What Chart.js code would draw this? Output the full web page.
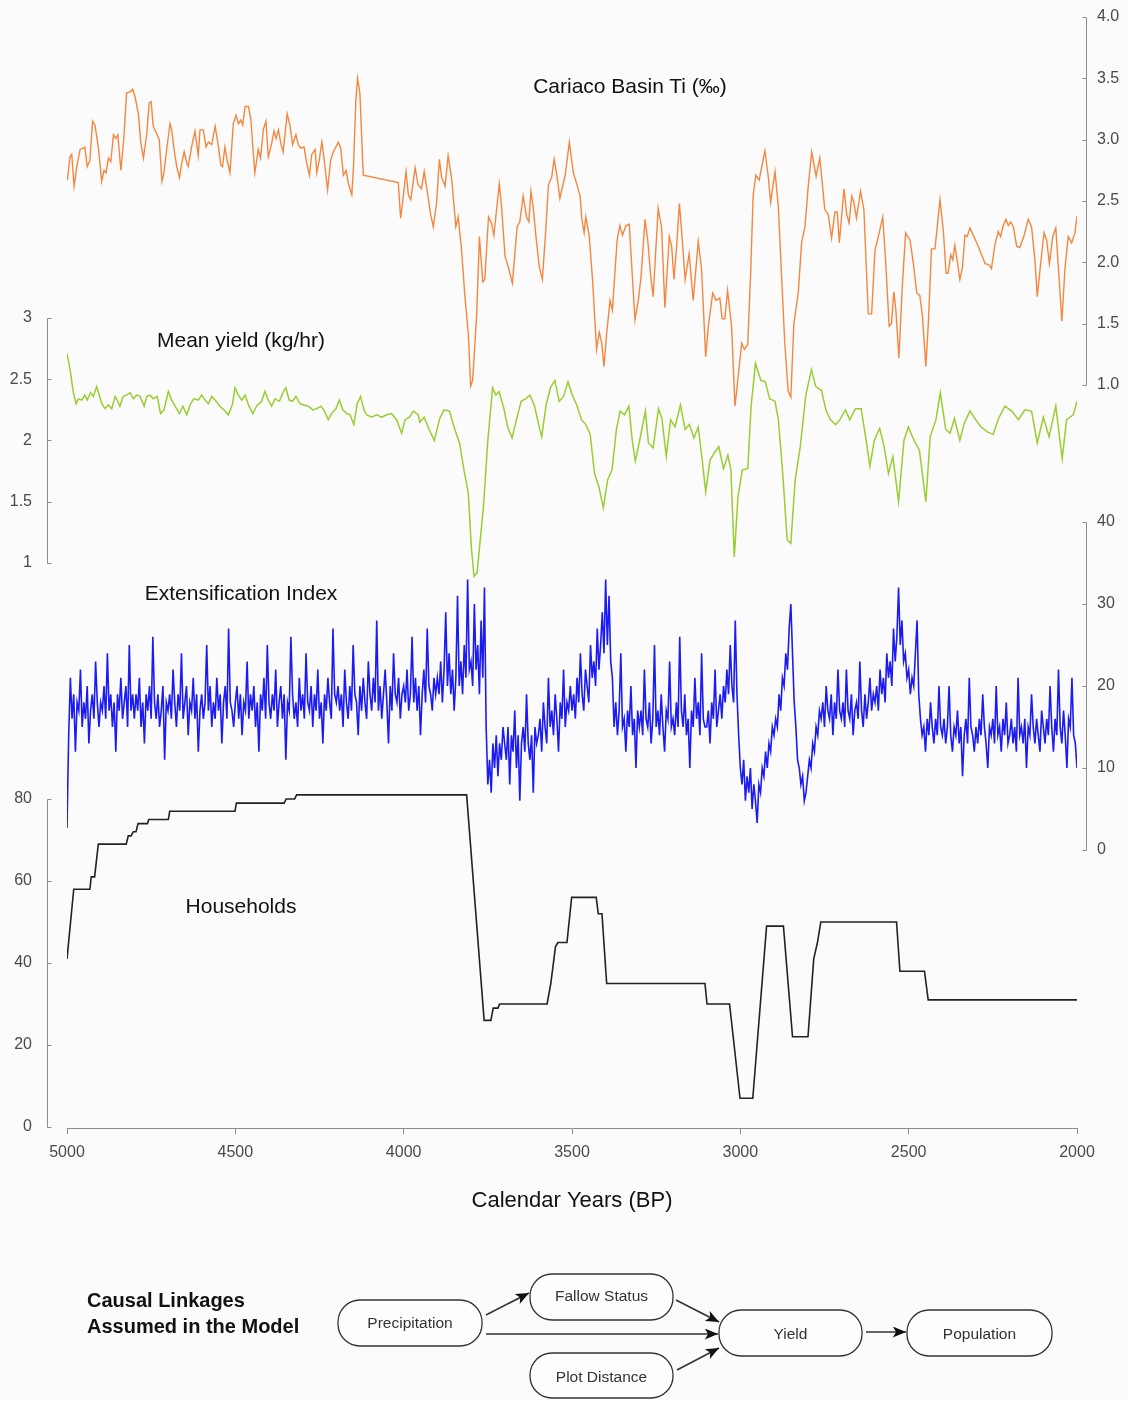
<!DOCTYPE html>
<html><head><meta charset="utf-8">
<script src="https://cdn.jsdelivr.net/npm/chart.js@4.4.0/dist/chart.umd.min.js"></script>
<style>
html,body{margin:0;padding:0;background:#fbfbfb;}
#wrap{position:relative;width:1129px;height:1401px;overflow:hidden;font-family:'Liberation Sans',Arial,sans-serif;}
#c{position:absolute;left:0;top:0;}
.lbl{position:absolute;transform:translate(-50%,-50%);font-size:21px;color:#111;white-space:nowrap;}
#diag{position:absolute;left:0;top:0;}
</style></head>
<body>
<div id="wrap">
<canvas id="c" width="1129" height="1230" style="width:1129px;height:1230px"></canvas>
<div class="lbl" style="left:630px;top:86px">Cariaco Basin Ti (‰)</div>
<div class="lbl" style="left:241px;top:340px">Mean yield (kg/hr)</div>
<div class="lbl" style="left:241px;top:593px">Extensification Index</div>
<div class="lbl" style="left:241px;top:906px">Households</div>
<svg id="diag" width="1129" height="1401" viewBox="0 0 1129 1401">
<defs><marker id="ah" viewBox="0 0 12 10" refX="12" refY="5" markerWidth="15" markerHeight="11" markerUnits="userSpaceOnUse" orient="auto"><path d="M0,0 L12,5 L0,10 L3,5 z" fill="#111"/></marker></defs>
<g font-family="'Liberation Sans',Arial,sans-serif">
<text x="87" y="1307" font-size="20" font-weight="bold" fill="#111">Causal Linkages</text>
<text x="87" y="1333" font-size="20" font-weight="bold" fill="#111">Assumed in the Model</text>
<g fill="#fdfdfd" stroke="#333" stroke-width="1.3">
<rect x="338" y="1300" width="144" height="46" rx="22"/>
<rect x="530" y="1274" width="143" height="46" rx="22"/>
<rect x="530" y="1353" width="143" height="45" rx="22"/>
<rect x="719" y="1310" width="143" height="46" rx="22"/>
<rect x="907" y="1310" width="145" height="46" rx="22"/>
</g>
<g font-size="15.5" fill="#333" text-anchor="middle" dominant-baseline="central">
<text x="410" y="1322">Precipitation</text>
<text x="601.5" y="1295">Fallow Status</text>
<text x="601.5" y="1376">Plot Distance</text>
<text x="790.5" y="1333">Yield</text>
<text x="979.5" y="1333">Population</text>
</g>
<g stroke="#333" stroke-width="1.6" fill="none" marker-end="url(#ah)">
<line x1="486" y1="1315" x2="529" y2="1293"/>
<line x1="676" y1="1300" x2="719" y2="1322"/>
<line x1="486" y1="1334" x2="718" y2="1334"/>
<line x1="677" y1="1370" x2="719" y2="1348"/>
<line x1="866" y1="1332" x2="906" y2="1332"/>
</g>
</g>
</svg>
</div>
<script>
// ---- tick labels ----
const yearTicks = [5000, 4500, 4000, 3500, 3000, 2500, 2000];
const cariacoTicks = [1.0, 1.5, 2.0, 2.5, 3.0, 3.5, 4.0];
const yieldTicks = [1, 1.5, 2, 2.5, 3];
const extTicks = [0, 10, 20, 30, 40];
const hhTicks = [0, 20, 40, 60, 80];

// ---- Cariaco Basin Ti (permil): [year BP, value] ----
const cariacoTi = [[4999,2.67],[4991,2.86],[4986,2.88],[4979,2.62],[4971,2.78],[4961,2.92],[4952,2.93],[4947,2.94],[4940,2.78],[4932,2.83],[4924,3.15],[4917,3.12],[4907,2.94],[4897,2.66],[4890,2.75],[4884,2.73],[4877,2.85],[4870,2.82],[4862,3.04],[4855,3.01],[4849,3.04],[4840,2.75],[4831,3.02],[4823,3.38],[4813,3.39],[4805,3.41],[4798,3.35],[4788,3.21],[4781,2.98],[4773,2.85],[4763,3.05],[4756,3.30],[4750,3.31],[4744,3.11],[4734,3.05],[4726,3.00],[4718,2.66],[4712,2.73],[4704,2.92],[4694,3.13],[4689,3.08],[4682,2.92],[4674,2.78],[4666,2.69],[4659,2.81],[4652,2.90],[4644,2.81],[4640,2.78],[4630,2.94],[4620,3.07],[4610,2.87],[4605,3.08],[4595,3.08],[4587,2.94],[4580,2.98],[4570,2.96],[4560,3.11],[4551,2.96],[4543,2.79],[4538,2.78],[4531,2.94],[4524,2.83],[4516,2.73],[4506,3.13],[4498,3.20],[4491,3.13],[4484,3.16],[4478,3.12],[4471,3.27],[4461,3.27],[4454,3.17],[4448,2.94],[4442,2.73],[4432,2.92],[4425,2.85],[4417,3.08],[4409,3.15],[4402,2.86],[4392,2.97],[4385,3.07],[4379,3.01],[4372,3.08],[4365,2.97],[4358,2.90],[4346,3.21],[4338,3.12],[4330,2.96],[4320,3.04],[4313,2.96],[4306,2.93],[4296,2.94],[4288,2.81],[4280,2.71],[4273,2.88],[4263,2.92],[4258,2.73],[4251,2.83],[4243,2.98],[4237,2.86],[4226,2.59],[4217,2.83],[4209,2.90],[4194,2.98],[4187,2.93],[4179,2.71],[4171,2.75],[4164,2.64],[4154,2.55],[4149,2.78],[4142,3.32],[4137,3.50],[4130,3.38],[4120,2.71],[4016,2.65],
[4009,2.36],[4001,2.54],[3993,2.74],[3986,2.55],[3979,2.51],[3966,2.77],[3957,2.63],[3947,2.60],[3939,2.74],[3930,2.58],[3920,2.39],[3912,2.29],[3902,2.49],[3894,2.84],[3887,2.69],[3877,2.62],[3868,2.87],[3857,2.67],[3845,2.29],[3838,2.37],[3828,2.10],[3818,1.72],[3808,1.42],[3801,0.99],[3795,1.04],[3783,1.58],[3775,2.21],[3765,1.84],[3759,1.86],[3748,2.37],[3739,2.32],[3732,2.22],[3716,2.64],[3709,2.45],[3699,2.05],[3689,1.96],[3677,1.83],[3663,2.29],[3655,2.33],[3645,2.54],[3635,2.37],[3628,2.33],[3622,2.58],[3615,2.44],[3607,2.21],[3597,1.96],[3588,1.86],[3578,2.26],[3570,2.63],[3560,2.70],[3553,2.84],[3546,2.73],[3536,2.52],[3528,2.62],[3520,2.71],[3508,2.98],[3496,2.73],[3486,2.64],[3476,2.54],[3471,2.36],[3464,2.24],[3459,2.37],[3449,2.22],[3439,1.86],[3427,1.29],[3419,1.43],[3412,1.35],[3405,1.15],[3397,1.42],[3387,1.69],[3380,1.61],[3372,1.94],[3366,2.18],[3358,2.30],[3350,2.22],[3340,2.30],[3330,2.31],[3323,1.99],[3313,1.53],[3303,1.69],[3295,1.88],[3283,2.35],[3275,2.18],[3266,1.88],[3259,1.72],[3244,2.44],[3234,2.29],[3224,1.63],[3211,2.21],[3204,2.13],[3197,1.86],[3189,2.14],[3181,2.48],[3174,2.24],[3164,1.86],[3152,2.07],[3140,1.69],[3125,2.17],[3115,1.94],[3103,1.23],[3095,1.48],[3082,1.75],[3072,1.69],[3061,1.71],[3054,1.54],[3046,1.54],[3038,1.77],[3026,1.48],[3016,0.83],[3011,0.95],[2996,1.34],[2988,1.29],[2978,1.33],[2969,1.94],[2962,2.54],[2954,2.71],[2944,2.67],
[2940,2.73],[2927,2.91],[2917,2.70],[2910,2.49],[2897,2.74],[2887,2.45],[2877,1.86],[2868,1.34],[2858,0.95],[2850,0.90],[2841,1.50],[2828,1.75],[2818,2.16],[2808,2.29],[2798,2.63],[2788,2.90],[2775,2.70],[2764,2.85],[2749,2.43],[2739,2.39],[2729,2.20],[2719,2.41],[2712,2.41],[2706,2.16],[2692,2.60],[2684,2.39],[2677,2.32],[2669,2.54],[2663,2.49],[2655,2.36],[2643,2.58],[2633,2.43],[2620,1.58],[2610,1.58],[2600,2.10],[2590,2.21],[2577,2.37],[2568,1.99],[2558,1.48],[2551,1.50],[2544,1.76],[2538,1.61],[2529,1.22],[2519,1.80],[2509,2.24],[2496,2.18],[2486,1.99],[2476,1.75],[2467,1.73],[2459,1.56],[2449,1.15],[2442,1.48],[2432,2.11],[2422,2.11],[2415,2.29],[2407,2.51],[2397,2.26],[2389,1.91],[2383,1.91],[2375,2.06],[2369,2.02],[2363,2.14],[2356,2.02],[2348,1.86],[2340,1.96],[2333,2.22],[2326,2.21],[2318,2.28],[2308,2.22],[2298,2.16],[2283,2.06],[2273,1.99],[2261,1.98],[2254,1.95],[2244,2.14],[2234,2.25],[2227,2.21],[2219,2.30],[2211,2.35],[2204,2.30],[2197,2.33],[2189,2.29],[2179,2.13],[2170,2.12],[2158,2.21],[2145,2.35],[2135,2.29],[2125,2.02],[2118,1.72],[2108,1.99],[2098,2.24],[2090,2.18],[2082,1.99],[2072,2.21],[2063,2.28],[2053,1.86],[2045,1.52],[2036,1.94],[2026,2.21],[2016,2.16],[2006,2.24],[2000,2.38]];

// ---- Mean yield (kg/hr): [year BP, value] ----
const meanYield = [[5000,2.71],[4991,2.58],[4981,2.39],[4973,2.30],[4966,2.34],[4956,2.33],[4947,2.37],[4940,2.33],[4930,2.39],[4922,2.36],[4912,2.44],[4904,2.37],[4897,2.30],[4887,2.26],[4877,2.29],[4867,2.26],[4857,2.36],[4851,2.33],[4843,2.28],[4833,2.36],[4823,2.37],[4813,2.39],[4803,2.34],[4793,2.37],[4783,2.36],[4771,2.28],[4763,2.36],[4753,2.37],[4744,2.34],[4732,2.36],[4722,2.22],[4712,2.25],[4699,2.40],[4689,2.33],[4679,2.28],[4666,2.22],[4656,2.28],[4644,2.21],[4633,2.30],[4623,2.34],[4610,2.33],[4600,2.37],[4590,2.33],[4580,2.30],[4570,2.36],[4557,2.32],[4546,2.28],[4534,2.25],[4521,2.21],[4509,2.29],[4501,2.43],[4491,2.37],[4481,2.33],[4471,2.37],[4461,2.29],[4448,2.22],[4437,2.28],[4422,2.32],[4412,2.40],[4402,2.33],[4392,2.28],[4382,2.34],[4369,2.32],[4359,2.39],[4350,2.43],[4340,2.33],[4330,2.32],[4320,2.36],[4308,2.30],[4296,2.29],[4283,2.28],[4270,2.25],[4258,2.26],[4246,2.28],[4237,2.25],[4224,2.17],[4214,2.22],[4201,2.26],[4191,2.33],[4181,2.25],[4169,2.22],[4159,2.21],[4148,2.13],[4138,2.30],[4128,2.36],[4118,2.25],[4110,2.21],[4095,2.19],[4080,2.21],[4065,2.19],[4050,2.21],[4036,2.22],[4021,2.17],[4006,2.06],[3996,2.17],[3983,2.19],[3971,2.24],[3957,2.21],[3952,2.15],[3939,2.19],[3926,2.10],[3909,2.00],[3893,2.18],[3880,2.25],[3864,2.24],[3848,2.09],[3834,1.98],[3821,1.76],[3808,1.57],[3799,1.13],[3791,0.89],[3782,0.92],[3763,1.46],[3750,2.00],[3736,2.43],[3726,2.37],[3717,2.40],[3704,2.28],[3691,2.11],[3678,2.02],[3665,2.17],[3651,2.32],[3638,2.34],[3625,2.37],[3612,2.29],[3599,2.13],[3590,2.03],[3577,2.29],[3564,2.43],[3551,2.49],[3538,2.32],[3525,2.36],[3512,2.48],[3499,2.37],[3486,2.29],[3472,2.17],[3459,2.13],[3446,2.05],[3433,1.73],[3420,1.62],[3407,1.45],[3394,1.68],[3381,1.76],[3368,2.09],[3357,2.24],[3344,2.21],[3331,2.28],[3321,2.00],[3312,1.83],[3299,2.00],[3282,2.24],[3273,1.98],[3259,1.94],[3243,2.26],[3233,2.18],[3220,1.87],[3207,2.17],[3194,2.11],[3178,2.29],[3164,2.09],[3151,2.13],[3138,2.02],[3125,2.11],[3112,1.81],[3103,1.58],[3090,1.84],[3077,1.90],[3064,1.95],[3050,1.77],[3037,1.88],[3028,1.76],[3018,1.05],[3007,1.54],[2994,1.76],[2978,1.77],[2968,2.28],[2955,2.63],[2939,2.49],[2926,2.48],[2913,2.34],[2897,2.32],[2887,2.17],[2874,1.73],[2861,1.19],[2850,1.16],[2837,1.68],[2822,1.95],[2806,2.36],[2789,2.58],[2776,2.44],[2759,2.41],[2746,2.25],[2733,2.17],[2717,2.13],[2704,2.17],[2688,2.25],[2675,2.17],[2658,2.26],[2641,2.26],[2628,2.03],[2615,1.79],[2602,2.00],[2586,2.10],[2573,1.95],[2560,1.73],[2547,1.87],[2530,1.50],[2514,2.00],[2501,2.11],[2484,2.00],[2468,1.92],[2449,1.50],[2436,2.03],[2419,2.17],[2406,2.39],[2390,2.09],[2377,2.06],[2364,2.18],[2348,2.00],[2335,2.14],[2318,2.24],[2301,2.17],[2285,2.11],[2266,2.07],[2249,2.05],[2233,2.18],[2214,2.28],[2194,2.24],[2174,2.17],[2155,2.25],[2135,2.24],[2118,1.98],[2100,2.19],[2083,2.03],[2063,2.28],[2044,1.85],[2031,2.17],[2011,2.21],[2000,2.32]];

// ---- Extensification index: one value every 5 years from 5000 BP to 2000 BP ----
const extStartYear = 5000;
const extStepYears = 5;
const extIndex = [
2.7,14,21,16,19,12,18,17,22,15,18,16,20,13,17,19,16,23,18,15,
18,17,20,16,24,17,19,15,18,12,19,17,21,16,18,20,15,25,17,19,
16,19,17,21,15,18,13,19,17,20,16,26,18,16,19,15,17,20,11,18,
17,19,16,22,18,15,19,17,24,16,18,20,14,18,17,21,16,19,12,17,
19,16,18,25,17,20,15,18,16,21,17,19,13,18,20,16,27,18,17,15,
18,20,16,19,14,18,17,23,16,19,17,20,15,18,12,19,17,21,16,25,
18,16,19,17,22,15,18,20,16,19,11,18,17,26,19,16,18,15,21,17,
19,16,24,18,17,20,15,19,17,22,16,18,13,19,17,21,18,16,27,19,
18,20,17,19,15,22,18,16,20,17,25,19,18,14,20,17,21,18,16,23,
19,17,21,18,28,17,20,16,19,22,18,13,20,17,24,19,18,21,16,19,
20,18,22,17,19,26,18,21,17,20,14,19,22,18,27,20,19,17,21,19,
21,19,23,18,22,29,20,24,19,22,17,21,31,20,23,19,25,21,33,22,
23,20,30,22,25,19,28,21,32,15,8,11,7,13,10,14,9,13,11,15,
13,11,15,8,14,12,17,10,14,6,13,15,12,19,13,11,14,7,15,13,
14,16,12,18,15,13,21,15,17,14,19,16,12,18,16,22,15,18,17,20,
17,19,16,21,18,24,19,17,22,20,18,25,21,23,20,27,22,25,29,24,
33,25,31,23,21,15,18,14,17,24,15,16,12,17,15,20,14,16,10,17,
15,17,14,22,16,15,18,13,16,25,15,17,14,19,15,12,17,16,23,15,
16,14,18,15,26,17,15,19,14,16,10,17,15,21,16,18,14,24,16,15,
15,17,13,18,16,22,15,17,19,16,20,18,22,19,25,20,18,28,19,14,
10,8,11,6,9,7,10,5,8,6,3.3,8,7,10,9,12,10,13,12,15,
14,16,15,19,17,21,20,24,22,27,30,24,18,15,11,10,8,9,6,7,
9,11,10,13,12,15,14,17,16,18,15,20,17,16,19,14,18,16,22,17,
16,18,15,22,17,16,19,14,17,18,16,23,17,15,19,16,18,21,17,19,
18,20,17,22,19,21,18,24,21,23,20,27,23,26,32,25,28,23,24,21,
22,19,21,20,24,28,19,16,14,15,12,16,14,18,15,13,16,14,20,15,
14,16,13,15,20,14,12,15,14,17,13,15,9,14,16,13,21,15,14,12,
15,13,16,14,19,15,13,10,15,14,16,13,20,14,15,12,16,14,18,13,
14,16,13,15,12,21,14,15,13,16,10,15,14,19,15,13,16,14,12,17,
15,13,16,14,20,15,12,16,14,22,15,13,17,14,10,16,15,21,14,13,
10];

// ---- Households: [year BP, count] ----
const households = [[5000,41],[4980,58],[4932,58],[4928,61],[4918,61],[4907,69],[4824,69],[4818,71],[4810,71],[4803,72],[4795,72],[4789,74],[4761,74],[4757,75],[4699,75],[4695,77],[4501,77],[4497,79],[4355,79],[4349,80],[4324,80],[4318,81],[3813,81],[3761,26],[3741,26],[3734,29],[3720,29],[3715,30],[3574,30],[3563,35],[3549,44],[3542,45],[3515,45],[3501,56],[3428,56],[3422,52],[3411,52],[3397,35],[3105,35],[3099,30],[3032,30],[3001,7],[2963,7],[2922,49],[2872,49],[2845,22],[2799,22],[2782,41],[2771,45],[2761,50],[2536,50],[2526,38],[2453,38],[2442,31],[2000,31]];

const toXY = arr => arr.map(p => ({x: p[0], y: p[1]}));
const extXY = extIndex.map((v, i) => ({x: extStartYear - i * extStepYears, y: v}));

Chart.defaults.font.family = "'Liberation Sans', Arial, sans-serif";

const TICK_COLOR = '#4a4a4a';
const AXIS_COLOR = '#8c8c8c';

function yScale(pos, weight, width, min, max, ticksArr, fmt, pad) {
  return {
    type: 'linear', position: pos, weight: weight, min: min, max: max,
    grid: {display: false, drawTicks: false}, border: {display: false},
    ticks: {padding: pad, color: TICK_COLOR, font: {size: 16}, autoSkip: false, callback: fmt},
    afterBuildTicks: s => { s.ticks = ticksArr.map(v => ({value: v})); },
    afterFit: s => { s.width = width; s.paddingTop = 0; s.paddingBottom = 0; }
  };
}

// inner axes share the outer axes' gutter so their labels are not clipped
const shareGutters = {
  id: 'shareGutters',
  afterLayout(chart) {
    const yM = chart.scales.yM, yH = chart.scales.yH;
    const yE = chart.scales.yE, yC = chart.scales.yC;
    yM.left = yH.left; yM.width = yM.right - yM.left;
    yE.right = yC.right; yE.width = yE.right - yE.left;
  }
};

const axisLines = {
  id: 'axisLines',
  afterDraw(chart) {
    const ctx = chart.ctx, ca = chart.chartArea;
    ctx.save();
    ctx.strokeStyle = AXIS_COLOR; ctx.lineWidth = 1;
    ['yC', 'yE', 'yM', 'yH'].forEach(id => {
      const s = chart.scales[id];
      const left = s.position === 'left';
      const x = left ? ca.left - 20 + 0.5 : ca.right + 9 + 0.5;
      const dir = left ? 1 : -1;
      const vals = s.ticks.map(t => t.value);
      const yTop = s.getPixelForValue(Math.max(...vals));
      const yBot = s.getPixelForValue(Math.min(...vals));
      ctx.beginPath();
      ctx.moveTo(x, Math.round(yTop) + 0.5); ctx.lineTo(x, Math.round(yBot) + 0.5);
      vals.forEach(v => {
        const y = Math.round(s.getPixelForValue(v)) + 0.5;
        ctx.moveTo(x, y); ctx.lineTo(x + dir * 4, y);
      });
      ctx.stroke();
    });
    ctx.restore();
  }
};

new Chart(document.getElementById('c'), {
  type: 'line',
  data: {
    datasets: [
      {data: toXY(cariacoTi), yAxisID: 'yC', borderColor: '#f4873f', borderWidth: 1.4},
      {data: toXY(meanYield), yAxisID: 'yM', borderColor: '#9acd32', borderWidth: 1.5},
      {data: extXY, yAxisID: 'yE', borderColor: '#1c1cf2', borderWidth: 1.6},
      {data: toXY(households), yAxisID: 'yH', borderColor: '#222222', borderWidth: 1.6}
    ]
  },
  options: {
    responsive: false, animation: false, devicePixelRatio: 1,
    layout: {padding: {top: 10, left: 0, right: 0, bottom: 0}},
    elements: {point: {radius: 0}, line: {tension: 0}},
    plugins: {legend: {display: false}, tooltip: {enabled: false}},
    scales: {
      x: {
        type: 'linear', reverse: true, min: 2000, max: 5000,
        grid: {display: true, drawOnChartArea: false, drawTicks: true, tickLength: 6, color: AXIS_COLOR},
        border: {display: true, color: AXIS_COLOR},
        ticks: {padding: 9, color: TICK_COLOR, font: {size: 16}, autoSkip: false, maxRotation: 0, callback: v => String(v)},
        title: {display: true, text: 'Calendar Years (BP)', color: '#111', font: {size: 22}, padding: {top: 0, bottom: 16}},
        afterBuildTicks: s => { s.ticks = yearTicks.map(v => ({value: v})); },
        afterFit: s => { s.height = 102; s.paddingLeft = 0; s.paddingRight = 0; }
      },
      yH: yScale('left', 2, 67, -0.24, 272.44, hhTicks, v => String(v), 35),
      yM: yScale('left', 1, 0, -3.612, 5.514, yieldTicks, v => String(v), 35),
      yC: yScale('right', 2, 52, -5.057, 4.057, cariacoTicks, v => v.toFixed(1), 20),
      yE: yScale('right', 1, 0, -33.90, 102.44, extTicks, v => String(v), 20)
    }
  },
  plugins: [shareGutters, axisLines]
});
</script>
</body></html>
